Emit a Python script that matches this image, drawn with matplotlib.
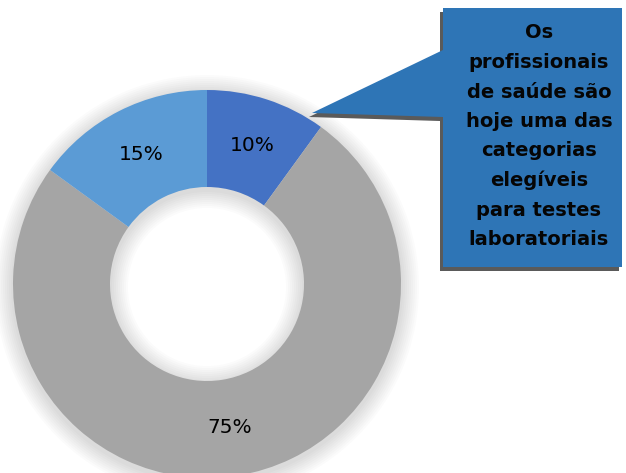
import matplotlib.pyplot as plt
from matplotlib.patches import Polygon, Wedge

# Data
shares = [10, 75, 15]
slice_colors = ["#4472C4", "#A5A5A5", "#5B9BD5"]
callout_lines = ["Os", "profissionais", "de saúde são", "hoje uma das",
                 "categorias", "elegíveis", "para testes", "laboratoriais"]

W, H = 626, 473

fig = plt.figure(figsize=(W / 100, H / 100), dpi=100)
ax = fig.add_axes([0, 0, 1, 1])

cx, cy, r = 207, H - 284, 194

# soft shadow around the ring
for k in range(9):
    grow = 2 + k * 2
    ax.add_patch(Wedge((cx, cy - 3), r + grow, 0, 360, width=r * 0.5 + 2 * grow,
                       color="black", alpha=0.015, lw=0, zorder=0))

wedges, texts, autotexts = ax.pie(
    shares, colors=slice_colors, startangle=90, counterclock=False,
    center=(cx, cy), radius=r, autopct="%d%%", pctdistance=0.75,
    wedgeprops=dict(width=r * 0.5, linewidth=0),
    textprops=dict(fontsize=14.5, color="black"), frame=True)

# callout box with pointer
box_l, box_r, box_t, box_b = 443, 622, 8, 267
tip = (312, 113)
pts = [(box_l, H - box_t), (box_r, H - box_t), (box_r, H - box_b), (box_l, H - box_b),
       (box_l, H - 117), (tip[0], H - tip[1]), (box_l, H - 50)]
shadow = [(x - 3, y - 4) for x, y in pts]
ax.add_patch(Polygon(shadow, closed=True, color="#5a5a5a", lw=0, zorder=3))
ax.add_patch(Polygon(pts, closed=True, color="#2E75B6", lw=0, zorder=4))

line_h = 29.5
y0 = 33
for i, line in enumerate(callout_lines):
    ax.text(539, H - (y0 + i * line_h), line, ha="center", va="center",
            fontsize=14, fontweight="bold", color="#050505", zorder=5)

ax.set_xlim(0, W)
ax.set_ylim(0, H)
ax.set_aspect("equal")
ax.axis("off")

fig.savefig("out.png", dpi=100)
